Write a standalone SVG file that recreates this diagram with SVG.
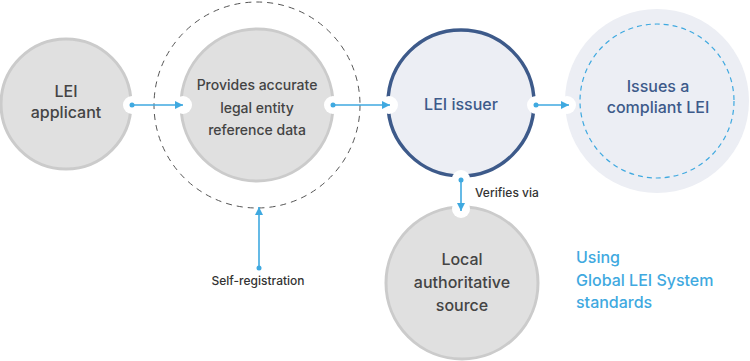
<svg xmlns="http://www.w3.org/2000/svg" width="750" height="361" viewBox="0 0 750 361">
<defs>
<style>
.gray{fill:#e0e0e0;stroke:#cbcbcb;stroke-width:3}
.t{font-family:Inter,"Liberation Sans",sans-serif;font-weight:500;text-anchor:middle}
.dk{fill:#444}
.bl{fill:#3d5a8a}
.conn{stroke:#3fa9e0;stroke-width:1.6;fill:none}
.halo{fill:#fff}
.dot{fill:#3fa9e0}
.lbl{font-family:Inter,"Liberation Sans",sans-serif;font-weight:500;font-size:12px;fill:#333}
</style>
<marker id="ah" viewBox="0 0 10 10" refX="10" refY="5" markerWidth="8" markerHeight="8" markerUnits="userSpaceOnUse" orient="auto">
<path d="M0,0 L10,5 L0,10 z" fill="#3fa9e0"/>
</marker>
</defs>
<rect width="750" height="361" fill="#fff"/>
<g id="applicant">
<circle class="gray" cx="66" cy="104" r="65"/>
<text class="t dk" x="66" font-size="16"><tspan x="66" y="97">LEI</tspan><tspan x="66" y="118">applicant</tspan></text>
</g>
<g id="provides">
<circle cx="257" cy="105" r="103" fill="none" stroke="#555" stroke-width="1" stroke-dasharray="6,5"/>
<circle class="gray" cx="257" cy="105" r="76"/>
<text class="t dk" font-size="14"><tspan x="257" y="90">Provides accurate</tspan><tspan x="257" y="113">legal entity</tspan><tspan x="257" y="135">reference data</tspan></text>
</g>
<g id="issuer">
<circle cx="461" cy="103" r="73" fill="#eceef4" stroke="#3d5a8a" stroke-width="3.5"/>
<text class="t bl" x="461" y="110" font-size="16">LEI issuer</text>
</g>
<g id="issues">
<circle cx="657" cy="101" r="92" fill="#eceef4"/>
<circle cx="657" cy="101" r="77" fill="none" stroke="#3fa9e0" stroke-width="1.2" stroke-dasharray="5,4"/>
<text class="t bl" font-size="16"><tspan x="658" y="92">Issues a</tspan><tspan x="658" y="113">compliant LEI</tspan></text>
</g>
<g id="local">
<circle class="gray" cx="462" cy="283" r="76"/>
<text class="t dk" font-size="16"><tspan x="462" y="265">Local</tspan><tspan x="462" y="288">authoritative</tspan><tspan x="462" y="311">source</tspan></text>
</g>
<g id="standards">
<text font-family="Inter,'Liberation Sans',sans-serif" font-weight="500" font-size="16" fill="#3fa9e0"><tspan x="576" y="263">Using</tspan><tspan x="576" y="286">Global LEI System</tspan><tspan x="576" y="308">standards</tspan></text>
</g>
<g id="connectors">
<circle class="halo" cx="132" cy="105" r="9"/>
<circle class="halo" cx="183" cy="105" r="9"/>
<circle class="halo" cx="333" cy="105" r="9"/>
<circle class="halo" cx="389" cy="105" r="9"/>
<circle class="halo" cx="536" cy="105" r="9"/>
<circle class="halo" cx="567" cy="105" r="9"/>
<circle class="halo" cx="461" cy="179" r="9"/>
<circle class="halo" cx="461" cy="209" r="9"/>
<line class="conn" x1="132" y1="105" x2="183" y2="105" marker-end="url(#ah)"/>
<circle class="dot" cx="132" cy="105" r="2.5"/>
<line class="conn" x1="333" y1="105" x2="390" y2="105" marker-end="url(#ah)"/>
<circle class="dot" cx="333" cy="105" r="2.5"/>
<line class="conn" x1="536" y1="105" x2="569" y2="105" marker-end="url(#ah)"/>
<circle class="dot" cx="536" cy="105" r="2.5"/>
<line class="conn" x1="461" y1="180" x2="461" y2="211" marker-end="url(#ah)"/>
<circle class="dot" cx="461" cy="180" r="2.5"/>
<line class="conn" x1="259" y1="268" x2="259" y2="207" marker-end="url(#ah)"/>
<circle class="dot" cx="259" cy="268" r="2.5"/>
<text class="lbl" x="475" y="197">Verifies via</text>
<text class="lbl" x="258" y="285" text-anchor="middle">Self-registration</text>
</g>
</svg>
